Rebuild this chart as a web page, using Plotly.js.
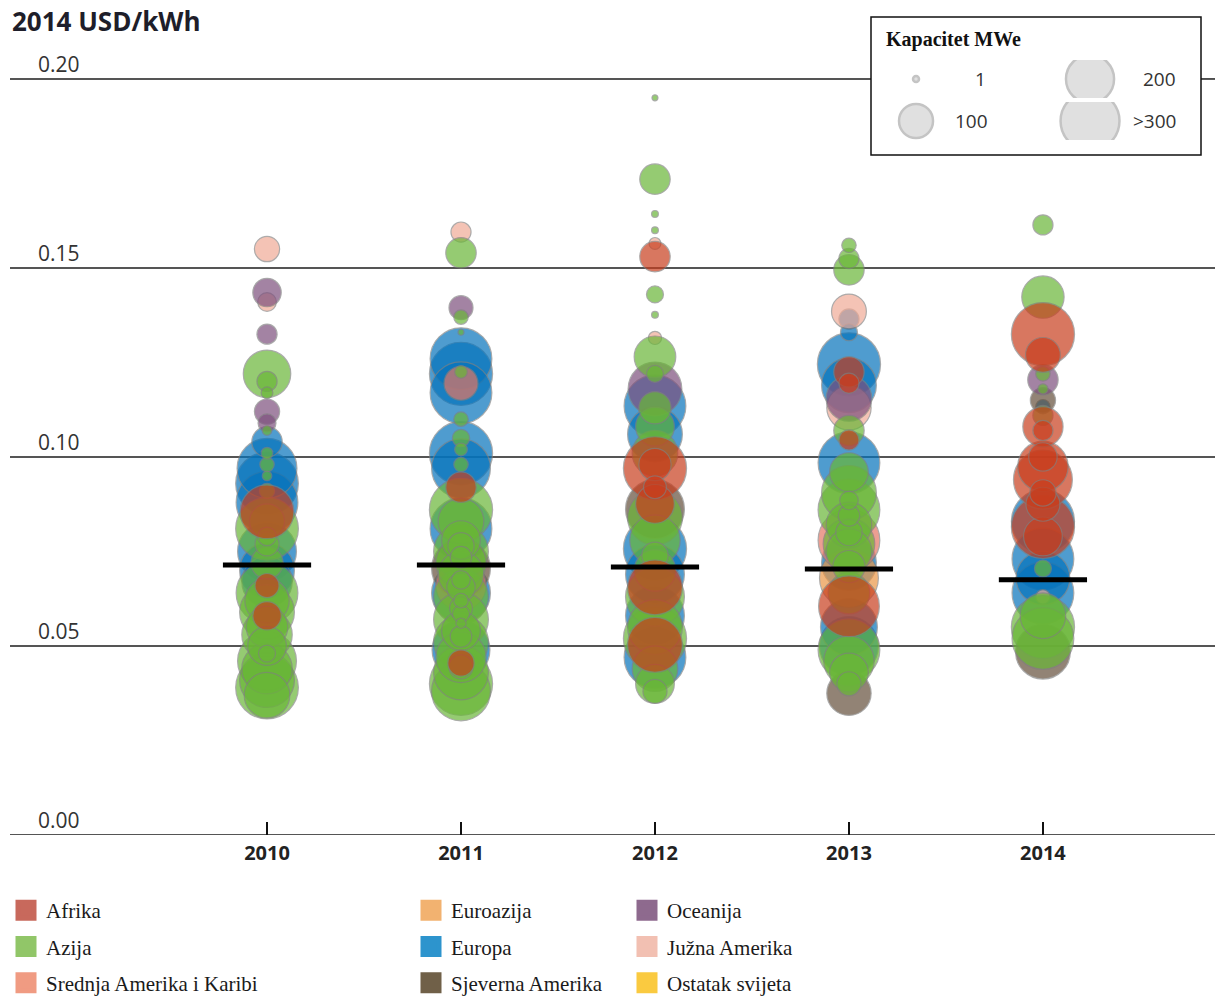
<!DOCTYPE html>
<html><head><meta charset="utf-8">
<script src="https://cdn.plot.ly/plotly-3.0.1.min.js"></script>
<style>html,body{margin:0;padding:0;background:#fff}#chart{width:1215px;height:999px}</style>
</head><body><div id="chart"></div>
<script>
// ---------- data ----------
const years = [2010, 2011, 2012, 2013, 2014];
const yearLabels = ['2010', '2011', '2012', '2013', '2014'];
const weightedAvg = [0.0714, 0.0714, 0.0709, 0.0704, 0.0675];
const yTicks = [0, 0.05, 0.10, 0.15, 0.20];
const yTickLabels = ['0.00', '0.05', '0.10', '0.15', '0.20'];

const regionCodes = ['AF', 'AZ', 'SK', 'EA', 'EU', 'NA', 'OC', 'JA', 'OS'];
const regionNames = ['Afrika', 'Azija', 'Srednja Amerika i Karibi', 'Euroazija', 'Europa',
  'Sjeverna Amerika', 'Oceanija', 'Južna Amerika', 'Ostatak svijeta'];

const lcoe2010 = [0.155, 0.1435, 0.141, 0.1325, 0.122, 0.120, 0.117, 0.112, 0.109, 0.107, 0.104, 0.101, 0.097, 0.093, 0.098, 0.095, 0.0855, 0.088, 0.081, 0.083, 0.075, 0.077, 0.070, 0.072, 0.066, 0.064, 0.062, 0.058, 0.059, 0.053, 0.050, 0.046, 0.044, 0.041, 0.039, 0.037, 0.048, 0.067, 0.055, 0.079, 0.091];
const mw2010 = [55, 70, 30, 35, 195, 35, 12, 55, 28, 8, 80, 12, 310, 340, 18, 8, 250, 330, 340, 105, 300, 50, 260, 90, 50, 330, 170, 70, 260, 220, 130, 300, 220, 260, 340, 180, 25, 220, 150, 30, 20];
const reg2010 = ['JA','OC','JA','OC','AZ','AZ','AZ','OC','OC','AZ','EU','AZ','EU','EU','AZ','AZ','AF','EU','AZ','AZ','EU','AZ','EU','AZ','AF','AZ','AZ','AF','AZ','AZ','AZ','AZ','AZ','AZ','AZ','AZ','AZ','EU','AZ','AZ','AZ'];

const lcoe2011 = [0.1595, 0.154, 0.1395, 0.137, 0.133, 0.126, 0.122, 0.117, 0.1195, 0.1225, 0.110, 0.105, 0.101, 0.097, 0.102, 0.098, 0.092, 0.086, 0.081, 0.083, 0.078, 0.075, 0.0705, 0.066, 0.064, 0.072, 0.069, 0.063, 0.060, 0.057, 0.054, 0.051, 0.049, 0.047, 0.0455, 0.043, 0.040, 0.038, 0.062, 0.056, 0.0765, 0.0735, 0.0675, 0.0655, 0.0585, 0.0525, 0.0445];
const mw2011 = [35, 80, 50, 18, 3, 330, 345, 330, 100, 14, 18, 26, 345, 300, 14, 18, 80, 345, 330, 180, 130, 260, 300, 220, 300, 220, 180, 260, 45, 260, 130, 260, 290, 220, 60, 260, 345, 300, 18, 9, 60, 40, 30, 70, 25, 40, 50];
const reg2011 = ['JA','AZ','OC','AZ','AZ','EU','EU','EU','SK','AZ','AZ','AZ','EU','EU','AZ','AZ','AF','AZ','EU','AZ','AZ','AZ','NA','SK','EU','AZ','AZ','AZ','AZ','AZ','AZ','AZ','EU','AZ','AF','AZ','AZ','AZ','AZ','AZ','AZ','AZ','AZ','AZ','AZ','AZ','AZ'];

const lcoe2012 = [0.195, 0.1735, 0.1643, 0.160, 0.153, 0.1565, 0.143, 0.1376, 0.1315, 0.1265, 0.122, 0.118, 0.1135, 0.113, 0.108, 0.106, 0.097, 0.098, 0.092, 0.0876, 0.0862, 0.084, 0.0757, 0.078, 0.074, 0.0655, 0.063, 0.0503, 0.052, 0.055, 0.047, 0.044, 0.040, 0.038, 0.058, 0.070, 0.069, 0.101];
const mw2012 = [1, 80, 4, 4, 80, 12, 25, 4, 15, 150, 25, 250, 330, 90, 130, 260, 345, 90, 45, 130, 300, 260, 345, 220, 60, 260, 300, 260, 345, 260, 330, 180, 130, 50, 300, 150, 300, 180];
const reg2012 = ['AZ','AZ','AZ','AZ','AF','JA','AZ','AZ','JA','AZ','AZ','OC','EU','AZ','AZ','EU','AF','AF','AF','AF','NA','AZ','EU','AZ','AZ','AF','AZ','AF','AZ','AZ','EU','AZ','AZ','AZ','EU','AZ','EU','AZ'];

const lcoe2013 = [0.156, 0.1495, 0.1525, 0.1385, 0.1365, 0.133, 0.1245, 0.1225, 0.1195, 0.119, 0.1155, 0.113, 0.107, 0.1045, 0.0985, 0.096, 0.0905, 0.086, 0.082, 0.078, 0.075, 0.068, 0.0605, 0.049, 0.050, 0.046, 0.043, 0.0375, 0.040, 0.072, 0.080, 0.071, 0.0885, 0.0845, 0.064, 0.055, 0.077];
const mw2013 = [18, 80, 35, 105, 35, 25, 345, 80, 35, 260, 180, 170, 80, 35, 330, 130, 260, 330, 180, 330, 180, 300, 320, 330, 300, 220, 130, 170, 50, 260, 60, 90, 30, 40, 150, 280, 230];
const reg2013 = ['AZ','AZ','AZ','JA','EU','EU','EU','AF','AF','EU','OC','JA','AZ','AF','EU','AZ','AZ','AZ','AZ','SK','AZ','EA','AF','AZ','EU','AZ','AZ','NA','AZ','EU','AZ','AZ','AZ','AZ','AZ','EU','AZ'];

const lcoe2014 = [0.1614, 0.1423, 0.1325, 0.127, 0.122, 0.1204, 0.118, 0.115, 0.1133, 0.111, 0.108, 0.107, 0.0975, 0.094, 0.100, 0.083, 0.0815, 0.079, 0.0705, 0.073, 0.064, 0.063, 0.055, 0.052, 0.0485, 0.058, 0.0875, 0.0905, 0.068];
const mw2014 = [35, 155, 345, 105, 18, 80, 9, 55, 18, 35, 140, 35, 220, 300, 70, 345, 345, 130, 25, 330, 330, 18, 345, 330, 260, 180, 100, 60, 250];
const reg2014 = ['AZ','AZ','AF','AF','AZ','OC','AZ','NA','EU','AZ','AF','AF','AF','AF','AF','EU','AF','AF','AZ','EU','EU','JA','AZ','AZ','NA','AZ','AF','AF','EU'];

const sizeLegendValues = [1, 200, 100, 300];
const sizeLegendLabels = ['1', '200', '100', '>300'];

// ---------- styles ----------
const bubbleColors = {
  AF: 'rgb(200,62,30)', AZ: 'rgb(105,182,55)', SK: 'rgb(228,118,100)', EA: 'rgb(235,150,70)',
  EU: 'rgb(5,115,188)', NA: 'rgb(100,80,60)', OC: 'rgb(125,80,125)', JA: 'rgb(240,170,150)', OS: 'rgb(245,190,40)'
};
const swatchColors = {
  AF: 'rgb(200,105,92)', AZ: 'rgb(145,198,104)', SK: 'rgb(240,155,130)', EA: 'rgb(242,178,112)',
  EU: 'rgb(45,148,205)', NA: 'rgb(112,96,72)', OC: 'rgb(142,106,142)', JA: 'rgb(242,192,178)', OS: 'rgb(250,202,64)'
};
const drawOrder = ['EU', 'NA', 'EA', 'SK', 'JA', 'OC', 'AZ', 'OS', 'AF'];
const legendCols = [['AF', 'AZ', 'SK'], ['EA', 'EU', 'NA'], ['OC', 'JA', 'OS']];
const SIZEREF = 0.173;

// paper helpers (plot area: x 10..1215, y 20..835)
const px = v => (v - 10) / 1205;
const py = v => (835 - v) / 815;

// ---------- build ----------
const yearData = [
  [lcoe2010, mw2010, reg2010], [lcoe2011, mw2011, reg2011], [lcoe2012, mw2012, reg2012],
  [lcoe2013, mw2013, reg2013], [lcoe2014, mw2014, reg2014]
];
const points = [];
yearData.forEach((d, i) => {
  d[0].forEach((v, j) => points.push({ x: years[i], y: v, s: d[1][j], r: d[2][j] }));
});

const traces = [];
drawOrder.forEach(code => {
  const pts = points.filter(p => p.r === code).sort((a, b) => b.s - a.s);
  if (!pts.length) return;
  traces.push({
    type: 'scatter', mode: 'markers', showlegend: false, hoverinfo: 'skip', cliponaxis: false,
    x: pts.map(p => p.x), y: pts.map(p => p.y),
    marker: {
      size: pts.map(p => p.s), sizemode: 'area', sizeref: SIZEREF, sizemin: 3,
      color: bubbleColors[code], opacity: 0.7,
      line: { color: 'rgba(128,128,128,0.9)', width: 1.2 }
    }
  });
});

traces.push({
  type: 'scatter', mode: 'markers', showlegend: false, hoverinfo: 'skip', cliponaxis: false,
  x: years, y: weightedAvg,
  marker: { symbol: 'line-ew', size: 63, color: '#000', line: { color: '#000', width: 5 } }
});

// region legend (three columns)
const legendIds = ['legend', 'legend2', 'legend3'];
legendCols.forEach((col, ci) => {
  col.forEach(code => {
    traces.push({
      type: 'scatter', mode: 'markers', x: [null], y: [null], hoverinfo: 'skip',
      name: regionNames[regionCodes.indexOf(code)], legend: legendIds[ci], legendgroup: code,
      marker: { symbol: 'square', size: 16, color: swatchColors[code], line: { color: swatchColors[code], width: 5 } }
    });
  });
});

// size legend (two rows, clipped circles)
const sizeMarker = vals => ({
  size: vals, sizemode: 'area', sizeref: SIZEREF, sizemin: 3,
  color: 'rgb(212,212,212)', line: { color: 'rgb(172,172,172)', width: 2.5 }
});
traces.push({ type: 'scatter', mode: 'markers', xaxis: 'x2', yaxis: 'y2', showlegend: false, hoverinfo: 'skip',
  x: [0, 1], y: [0, 0], marker: sizeMarker(sizeLegendValues.slice(0, 2)) });
traces.push({ type: 'scatter', mode: 'markers', xaxis: 'x3', yaxis: 'y3', showlegend: false, hoverinfo: 'skip',
  x: [0, 1], y: [0, 0], marker: sizeMarker(sizeLegendValues.slice(2, 4)) });

const sansFont = 'Open Sans, DejaVu Sans, sans-serif';
const serifFont = 'Liberation Serif, DejaVu Serif, serif';

// grid lines as shapes (0.20 line interrupted by the size legend box)
const boxL = px(871), boxR = px(1201);
const shapes = [];
yTicks.forEach(t => {
  const segs = (t === 0.20) ? [[0, boxL], [boxR, 1]] : [[0, 1]];
  segs.forEach(s => shapes.push({ type: 'line', xref: 'paper', yref: 'y', x0: s[0], x1: s[1], y0: t, y1: t,
    line: { color: '#1c1c1c', width: 1.5 }, layer: 'below' }));
});
shapes.push({ type: 'rect', xref: 'paper', yref: 'paper', x0: boxL, x1: boxR, y0: py(155), y1: py(17),
  line: { color: '#111', width: 1.5 }, fillcolor: 'rgba(0,0,0,0)', layer: 'above' });

const labelFont = { family: sansFont, size: 19, color: '#333' };
const annotations = [
  { xref: 'paper', yref: 'paper', x: px(884), y: py(40), xanchor: 'left', yanchor: 'middle', showarrow: false,
    text: '<b>Kapacitet MWe</b>', font: { family: serifFont, size: 20, color: '#111' } },
  { xref: 'x2', yref: 'y2', x: 0.368, y: 0, xanchor: 'center', yanchor: 'middle', showarrow: false, text: sizeLegendLabels[0], font: labelFont },
  { xref: 'x2', yref: 'y2', x: 1.506, y: 0, xanchor: 'right', yanchor: 'middle', showarrow: false, text: sizeLegendLabels[1], font: labelFont },
  { xref: 'x3', yref: 'y3', x: 0.213, y: 0, xanchor: 'left', yanchor: 'middle', showarrow: false, text: sizeLegendLabels[2], font: labelFont },
  { xref: 'x3', yref: 'y3', x: 1.506, y: 0, xanchor: 'right', yanchor: 'middle', showarrow: false, text: sizeLegendLabels[3], font: labelFont }
];

const legendBase = (x) => ({
  x: x, y: py(890), xanchor: 'left', yanchor: 'top', orientation: 'v',
  font: { family: serifFont, size: 21, color: '#1a1a1a' }, bgcolor: 'rgba(0,0,0,0)',
  tracegroupgap: 6, itemclick: false, itemdoubleclick: false
});

const layout = {
  width: 1215, height: 999,
  margin: { l: 10, r: 0, t: 20, b: 164, autoexpand: false },
  paper_bgcolor: '#fff', plot_bgcolor: 'rgba(0,0,0,0)',
  title: { text: '<b>2014 USD/kWh</b>', xref: 'container', yref: 'container', x: 12 / 1215, xanchor: 'left',
    y: 1 - 22 / 999, yanchor: 'middle', font: { family: sansFont, size: 26, color: '#1e1e2a' } },
  xaxis: {
    range: [2008.675, 2014.887], tickvals: years, ticktext: yearLabels,
    ticks: 'inside', ticklen: 13, tickwidth: 1.5, tickcolor: '#111', ticklabelstandoff: 4,
    showgrid: false, zeroline: false, showline: false, fixedrange: true,
    tickfont: { family: sansFont, size: 20, color: '#222', weight: 'bold' }
  },
  yaxis: {
    range: [0, 0.2156], tickvals: yTicks, ticktext: yTickLabels,
    ticklabelposition: 'inside top', ticklabelstandoff: 25, ticks: '',
    showgrid: false, zeroline: false, showline: false, fixedrange: true,
    tickfont: { family: sansFont, size: 21, color: '#333' }
  },
  xaxis2: { domain: [px(872), px(1200)], range: [-0.253, 1.632], anchor: 'y2', visible: false, fixedrange: true },
  yaxis2: { domain: [py(98), py(60)], range: [-1, 1], anchor: 'x2', visible: false, fixedrange: true },
  xaxis3: { domain: [px(872), px(1200)], range: [-0.253, 1.632], anchor: 'y3', visible: false, fixedrange: true },
  yaxis3: { domain: [py(140), py(102)], range: [-1, 1], anchor: 'x3', visible: false, fixedrange: true },
  legend: legendBase(px(6)),
  legend2: legendBase(px(411)),
  legend3: legendBase(px(627)),
  shapes: shapes,
  annotations: annotations,
  hovermode: false
};

Plotly.newPlot('chart', traces, layout, { staticPlot: true, displayModeBar: false });
</script>
</body></html>
